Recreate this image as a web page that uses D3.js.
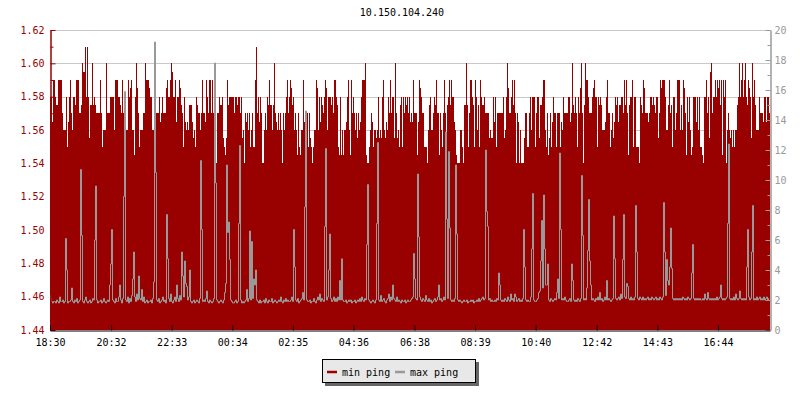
<!DOCTYPE html>
<html><head><meta charset="utf-8">
<script src="https://cdn.jsdelivr.net/npm/d3@7"></script>
<style>
body{margin:0;background:#fff}
svg text{font-family:"DejaVu Sans Mono",monospace;font-size:10px}
</style>
</head><body><svg id="c" width="800" height="400"></svg>
<script>
const chartTitle = "10.150.104.240";
const seriesNames = ["min ping", "max ping"];
const seriesColors = ["#990000", "#999999"];
const leftTicks = [1.44, 1.46, 1.48, 1.50, 1.52, 1.54, 1.56, 1.58, 1.60, 1.62];
const rightTicks = [0, 2, 4, 6, 8, 10, 12, 14, 16, 18, 20];
const timeTicks = ["18:30", "20:32", "22:33", "00:34", "02:35", "04:36", "06:38", "08:39", "10:40", "12:42", "14:43", "16:44"];

// min ping (left axis), read column by column
const minPingA = [1.58,1.58,1.565,1.59,1.59,1.58,1.575,1.575,1.59,1.59,1.59,1.59,1.57,1.56,1.56,1.56,1.58,1.55,1.565,1.58,1.59,1.57,1.56,1.58,1.58,1.575,1.59,1.59,1.59,1.57,1.57,1.575,1.60,1.595,1.595,1.61,1.58,1.61,1.58,1.555,1.575,1.575,1.60,1.575,1.58,1.575,1.57,1.57,1.57,1.57,1.59,1.57,1.55,1.56,1.56,1.56,1.60,1.57,1.57,1.57,1.58,1.58,1.58,1.58,1.56,1.59,1.59,1.59,1.58,1.58,1.575,1.57,1.59,1.57,1.57,1.57,1.56,1.56,1.59,1.58,1.585,1.59,1.56,1.56,1.545,1.58,1.60,1.585,1.57,1.55,1.56,1.56,1.56,1.57,1.57,1.60,1.59,1.59,1.59,1.585,1.58,1.58,1.56,1.56,1.58,1.57,1.57,1.57,1.57,1.58,1.565,1.57,1.58,1.57,1.57,1.57,1.585,1.59,1.58,1.58,1.59,1.60,1.595,1.58,1.58,1.59,1.565,1.58,1.58,1.59,1.585,1.575,1.57,1.55,1.58,1.565,1.56,1.565,1.56,1.575,1.575,1.575,1.565,1.555];
const minPingB = [1.56,1.55,1.58,1.575,1.57,1.57,1.56,1.57,1.59,1.57,1.57,1.565,1.59,1.58,1.57,1.59,1.59,1.57,1.59,1.57,1.56,1.54,1.54,1.57,1.57,1.58,1.575,1.575,1.58,1.555,1.55,1.545,1.555,1.59,1.575,1.58,1.58,1.58,1.58,1.58,1.57,1.58,1.58,1.575,1.58,1.58,1.57,1.58,1.555,1.56,1.54,1.57,1.565,1.57,1.56,1.57,1.55,1.56,1.57,1.55,1.55,1.59,1.61,1.57,1.58,1.565,1.58,1.57,1.54,1.54,1.56,1.57,1.56,1.58,1.575,1.59,1.575,1.575,1.56,1.575,1.60,1.57,1.565,1.56,1.57,1.56,1.57,1.56,1.54,1.57,1.56,1.57,1.58,1.59,1.57,1.58,1.59,1.585,1.575,1.58,1.56,1.57,1.56,1.545,1.57,1.55,1.545,1.56,1.56,1.59,1.565,1.56,1.55,1.57,1.55,1.57,1.555,1.55,1.54,1.55,1.56,1.56,1.59,1.585,1.56,1.58,1.565,1.58,1.575,1.57,1.58,1.59,1.585,1.56,1.58,1.58,1.58,1.575,1.58,1.57,1.59,1.59,1.58,1.575];
const minPingC = [1.55,1.545,1.58,1.545,1.56,1.545,1.56,1.56,1.565,1.58,1.59,1.56,1.545,1.59,1.57,1.58,1.57,1.56,1.57,1.555,1.57,1.56,1.565,1.58,1.59,1.59,1.59,1.60,1.545,1.54,1.54,1.55,1.56,1.57,1.565,1.55,1.56,1.56,1.555,1.56,1.58,1.555,1.56,1.555,1.58,1.59,1.56,1.555,1.565,1.56,1.58,1.57,1.59,1.57,1.58,1.58,1.555,1.60,1.57,1.555,1.56,1.55,1.575,1.58,1.55,1.58,1.57,1.58,1.575,1.58,1.57,1.58,1.565,1.57,1.565,1.59,1.57,1.57,1.57,1.545,1.565,1.59,1.585,1.58,1.57,1.57,1.55,1.55,1.55,1.54,1.56,1.575,1.58,1.56,1.56,1.57,1.58,1.575,1.59,1.57,1.57,1.545,1.57,1.56,1.55,1.57,1.59,1.57,1.545,1.575,1.58,1.59,1.575,1.59,1.58,1.58,1.565,1.56,1.545,1.54,1.54,1.54,1.56,1.56,1.55,1.54,1.575,1.575,1.60,1.575,1.55,1.57,1.59,1.59,1.58,1.575,1.55,1.59,1.58,1.56,1.575,1.55,1.59,1.58];
const minPingD = [1.575,1.575,1.58,1.57,1.57,1.57,1.57,1.555,1.56,1.555,1.555,1.58,1.565,1.58,1.55,1.57,1.57,1.57,1.57,1.57,1.57,1.58,1.555,1.56,1.58,1.60,1.585,1.57,1.57,1.58,1.59,1.575,1.59,1.57,1.54,1.57,1.565,1.54,1.56,1.54,1.54,1.54,1.555,1.57,1.57,1.55,1.55,1.57,1.58,1.56,1.58,1.58,1.58,1.55,1.57,1.58,1.58,1.555,1.575,1.575,1.58,1.59,1.59,1.56,1.55,1.57,1.545,1.555,1.57,1.55,1.565,1.58,1.57,1.57,1.55,1.57,1.57,1.57,1.55,1.565,1.56,1.58,1.57,1.57,1.57,1.57,1.58,1.58,1.565,1.57,1.60,1.575,1.57,1.58,1.57,1.55,1.58,1.57,1.585,1.60,1.57,1.54,1.575,1.60,1.59,1.59,1.58,1.57,1.57,1.57,1.58,1.585,1.59,1.58,1.58,1.55,1.58,1.575,1.58,1.575,1.56,1.56,1.56,1.565,1.58,1.59,1.57,1.57,1.55,1.56,1.57,1.555,1.565,1.58,1.575,1.58,1.565,1.575,1.575,1.58,1.58,1.57,1.59,1.575];
const minPingE = [1.59,1.57,1.545,1.575,1.58,1.58,1.59,1.55,1.58,1.58,1.55,1.55,1.55,1.54,1.58,1.575,1.57,1.59,1.585,1.57,1.57,1.57,1.565,1.57,1.58,1.58,1.575,1.58,1.575,1.57,1.58,1.58,1.555,1.57,1.59,1.585,1.59,1.59,1.59,1.58,1.56,1.56,1.575,1.59,1.57,1.575,1.55,1.58,1.58,1.56,1.57,1.59,1.59,1.59,1.56,1.575,1.56,1.59,1.585,1.57,1.545,1.58,1.565,1.58,1.56,1.545,1.55,1.58,1.58,1.58,1.565,1.58,1.56,1.58,1.55,1.55,1.545,1.54,1.58,1.58,1.59,1.57,1.58,1.555,1.595,1.60,1.57,1.58,1.58,1.59,1.58,1.59,1.585,1.59,1.575,1.59,1.545,1.59,1.58,1.59,1.54,1.56,1.57,1.56,1.555,1.56,1.55,1.56,1.55,1.56,1.56,1.575,1.58,1.60,1.58,1.59,1.60,1.58,1.59,1.60,1.58,1.575,1.59,1.585,1.58,1.555,1.60,1.58,1.59,1.575,1.56,1.56,1.56,1.58,1.57,1.57,1.57,1.565,1.58,1.58,1.565,1.58,1.58,1.57];

// max ping (right axis)
const maxPing1 = [2.3,2.1,1.9,1.8,1.9,1.9,1.8,2.0,1.9,1.8,2.2,1.9,1.9,2.0,1.8,1.9,6.1,4.0,1.8,1.9,1.9,2.0,2.8,1.9,1.8,2.0,1.9,2.1,1.8,1.9,2.0,10.7,6.3,1.9,1.8,2.0,2.2,1.9,1.8,1.9,2.0,1.8,1.9,2.1,2.0,6.0,9.6,2.0,1.8,1.9,1.9,2.0,1.8,1.9,2.1,1.9,1.8,1.9,2.0,1.9,
 3.0,4.4,6.7,2.0,1.9,1.8,2.1,1.9,1.9,2.2,3.0,2.0,1.8,2.1,8.9,15.9,2.0,1.9,2.2,1.8,2.1,1.9,2.3,3.4,5.2,2.2,1.9,2.4,2.0,3.6,2.1,2.0,2.7,1.9,2.2,1.8,1.9,2.0,1.8,1.9,1.9,2.0,1.8,2.1,3.2,19.2,10.5,2.0,1.9,2.1,1.8,1.9,2.0,2.2,1.9,2.0,1.8,7.7,4.75,2.1,
 1.9,2.4,1.9,1.8,2.0,2.2,1.9,3.0,2.1,1.9,2.3,2.0,5.2,3.6,2.2,4.6,3.1,2.9,2.0,2.2,4.0,1.9,1.8,1.9,2.0,1.8,1.9,2.0,1.9,1.8,2.1,11.3,6.7,1.9,2.0,1.9,2.1,2.6,1.9,1.8,2.0,1.9,1.8,1.9,2.1,17.8,9.8,2.0,1.9,1.8,1.9,2.0,1.9,1.8,2.0,2.5,3.1,11.0,6.5,7.2];
const maxPing2 = [4.7,2.0,1.9,1.8,1.8,1.9,2.0,1.8,1.9,7.1,12.3,2.0,1.8,1.9,1.8,1.9,2.0,2.7,1.9,2.1,6.6,2.0,5.9,2.1,3.4,3.0,4.0,2.0,1.9,1.8,2.0,1.8,1.9,1.9,2.0,1.8,2.1,1.9,1.8,2.0,1.9,1.9,2.1,1.8,1.9,2.0,1.9,1.8,1.9,2.0,1.9,2.2,1.9,1.8,2.0,1.9,2.1,1.9,2.0,1.9,
 1.9,2.0,2.2,1.9,6.7,4.2,2.0,1.9,2.1,1.8,1.9,2.0,2.1,2.5,2.0,8.2,14.6,2.0,1.9,1.9,2.0,1.8,1.9,1.9,2.1,1.9,1.8,2.0,2.2,2.0,2.4,1.9,2.1,2.0,1.9,6.9,12.1,2.0,2.2,4.0,6.4,2.1,1.9,2.0,2.2,1.9,2.1,1.9,2.2,2.0,3.3,2.0,4.75,2.0,1.9,1.9,2.0,1.8,1.9,2.0,
 1.9,2.0,1.8,1.9,1.9,2.0,1.8,1.9,2.0,1.9,2.1,1.9,2.2,2.0,1.9,2.1,2.0,5.7,9.7,2.0,1.9,1.8,1.9,2.0,1.9,1.8,2.0,7.1,12.5,2.0,1.9,2.3,1.9,2.0,2.1,1.9,1.8,2.0,2.1,2.4,1.9,2.2,2.0,3.0,2.1,2.0,1.9,2.2,1.9,2.0,1.9,1.8,2.0,1.9,1.9,2.0,1.8,1.9,2.0,1.9];
const maxPing3 = [1.9,2.0,2.1,2.2,5.1,3.4,2.1,2.0,10.4,6.2,2.2,2.0,1.9,2.1,2.0,1.9,2.3,2.0,1.9,2.1,1.9,2.0,1.8,1.9,2.0,2.1,1.9,2.0,2.2,3.0,2.0,2.1,1.9,2.0,2.2,2.0,13.2,7.4,2.1,11.9,6.8,2.0,1.9,2.0,1.9,2.1,11.0,6.4,2.0,1.9,2.0,1.9,1.8,1.9,2.0,1.9,1.9,2.0,1.8,1.9,
 1.9,2.0,1.9,2.0,1.8,1.9,1.9,2.0,1.9,2.1,1.9,2.0,2.1,2.2,2.0,2.1,12.0,7.9,6.9,2.0,2.1,1.9,2.0,1.9,1.9,2.0,1.9,2.1,2.0,3.8,3.0,2.0,1.9,2.0,1.9,2.1,2.0,1.9,2.2,2.0,1.9,2.4,2.0,2.1,1.9,2.4,2.2,1.9,2.0,2.1,1.9,2.0,1.9,2.1,6.7,4.2,2.0,1.9,2.0,1.9,
 1.9,2.2,5.4,9.1,2.0,1.9,1.9,2.0,2.1,2.5,2.6,4.6,7.3,2.8,9.0,5.4,3.0,3.0,4.4,2.0,1.9,2.1,2.0,1.9,2.0,2.1,2.0,2.5,3.4,2.1,11.8,6.7,2.0,2.1,2.0,2.2,2.0,1.9,1.9,2.0,2.1,1.9,4.4,3.3,2.0,1.9,2.0,1.9,2.1,2.0,1.9,2.1,10.3,6.3,2.0,2.1,2.0,2.8,5.3,8.7];
const maxPing4 = [4.6,3.0,2.0,2.1,2.0,1.9,2.1,2.0,2.2,2.0,2.5,2.0,2.1,1.9,2.0,2.2,2.0,3.3,2.0,2.1,2.0,1.9,2.0,2.1,7.6,4.75,2.1,2.0,2.1,2.2,2.0,2.4,2.1,4.7,7.7,2.2,2.1,3.1,2.9,2.1,2.0,2.2,2.0,2.1,2.0,2.2,8.3,5.2,2.1,2.0,2.2,2.1,2.0,2.2,2.0,2.1,2.0,2.1,2.2,2.0,
 2.1,2.0,2.2,2.1,2.0,2.1,2.2,2.0,2.1,2.0,2.2,2.1,2.0,2.2,8.5,5.2,2.3,4.7,3.3,3.0,4.2,6.8,4.1,2.1,2.0,2.1,2.0,2.1,2.0,2.1,2.0,2.1,2.0,2.2,2.1,2.0,2.1,2.0,2.2,2.1,2.0,2.1,3.8,5.7,2.1,2.0,2.1,2.0,2.1,2.0,2.1,2.0,2.0,2.1,2.0,2.4,2.1,2.0,2.5,2.1,
 2.0,2.1,2.0,2.1,2.0,2.1,2.0,2.2,2.0,2.1,2.2,3.0,2.1,2.0,2.1,2.0,2.1,2.2,7.1,12.4,2.1,2.0,2.1,2.0,2.2,2.0,2.4,2.1,2.0,2.1,2.6,2.1,2.0,2.1,2.0,2.1,2.0,4.2,6.7,2.2,2.0,2.1,5.2,8.3,2.0,2.1,2.0,2.2,2.0,2.1,2.2,2.0,2.1,2.0,2.2,2.0,2.1,2.2,2.0,2.1];

const minPing = [...minPingA, ...minPingB, ...minPingC, ...minPingD, ...minPingE];
const maxPing = [...maxPing1, ...maxPing2, ...maxPing3, ...maxPing4];

const svg = d3.select("#c");
const L = 50, R = 770, T = 30, B = 330;

const tStart = new Date(2021, 0, 1, 18, 30);
const tEnd = new Date(2021, 0, 2, 18, 28);
const xTime = d3.scaleTime().domain([tStart, tEnd]).range([L, R]);
const tickDates = timeTicks.map(s => {
  const [h, m] = s.split(":").map(Number);
  return new Date(2021, 0, h >= 18 ? 1 : 2, h, m);
});
const yL = d3.scaleLinear().domain([1.44, 1.62]).range([B, T]);
const yR = d3.scaleLinear().domain([0, 20]).range([B, T]);

// grid lines
svg.append("g").selectAll("line").data(leftTicks.slice(1)).join("line")
  .attr("x1", L).attr("x2", R)
  .attr("y1", d => Math.round(yL(d)) + 0.5).attr("y2", d => Math.round(yL(d)) + 0.5)
  .attr("stroke", "#c8c8c8").attr("stroke-width", 1);

// min ping area
const N = minPing.length;
const xi = d3.scaleLinear().domain([0, N]).range([L, R]);
const areaData = d3.range(N + 1).map(i => minPing[Math.min(i, N - 1)]);
svg.append("path").datum(areaData)
  .attr("d", d3.area().x((d, i) => xi(i)).y0(B).y1(d => yL(d)).curve(d3.curveStepAfter))
  .attr("fill", seriesColors[0]).attr("shape-rendering", "crispEdges");

// max ping line (steps, vertical risers on pixel centres)
const M = maxPing.length;
const xm = d3.scaleLinear().domain([0, M]).range([L, R]);
svg.append("path").datum(maxPing)
  .attr("d", d3.line().x((d, i) => Math.round(xm(i))).y(d => yR(d)).curve(d3.curveStep))
  .attr("fill", "none").attr("stroke", seriesColors[1]).attr("stroke-width", 1);

// left axis
const minorLeft = d3.range(1.45, 1.62, 0.02).map(v => +v.toFixed(2));
const gl = svg.append("g").attr("transform", `translate(${L + 0.5},0)`);
gl.call(d3.axisLeft(yL).tickValues(leftTicks).tickSize(-5).tickSizeOuter(0).tickPadding(6).tickFormat(d3.format(".2f")));
gl.append("g").call(d3.axisLeft(yL).tickValues(minorLeft).tickSize(-3).tickSizeOuter(0).tickFormat(""));
gl.selectAll("path,line").attr("stroke", seriesColors[0]);
gl.selectAll("text").attr("fill", seriesColors[0]).style("font-family", "DejaVu Sans Mono").style("font-size", "10px");

// right axis
const minorRight = d3.range(1, 20, 2);
const gr = svg.append("g").attr("transform", `translate(${R + 0.5},0)`);
gr.call(d3.axisRight(yR).tickValues(rightTicks).tickSize(-5).tickSizeOuter(0).tickPadding(4));
gr.append("g").call(d3.axisRight(yR).tickValues(minorRight).tickSize(-3).tickSizeOuter(0).tickFormat(""));
gr.selectAll("path,line").attr("stroke", seriesColors[1]);
gr.selectAll("text").attr("fill", seriesColors[1]).style("font-family", "DejaVu Sans Mono").style("font-size", "10px");

// bottom axis
const gb = svg.append("g").attr("transform", `translate(0,${B + 0.5})`);
gb.call(d3.axisBottom(xTime).tickValues(tickDates).tickSize(-5).tickSizeOuter(0).tickPadding(8).tickFormat(d3.timeFormat("%H:%M")));
gb.selectAll("path,line").attr("stroke", "#000");
gb.selectAll("text").attr("fill", "#000").style("font-family", "DejaVu Sans Mono").style("font-size", "10px");

// title
svg.append("text").attr("x", 402).attr("y", 16).attr("text-anchor", "middle")
  .attr("fill", "#000").text(chartTitle);

// legend
const lg = svg.append("g");
lg.append("rect").attr("x", 325).attr("y", 362).attr("width", 154).attr("height", 24).attr("fill", "#666");
lg.append("rect").attr("x", 322.5).attr("y", 359.5).attr("width", 153).attr("height", 23)
  .attr("fill", "#e8e8e8").attr("stroke", "#000").attr("stroke-width", 1);
const legX = [327, 395];
seriesNames.forEach((name, i) => {
  lg.append("line").attr("x1", legX[i]).attr("x2", legX[i] + 10).attr("y1", 372).attr("y2", 372)
    .attr("stroke", seriesColors[i]).attr("stroke-width", 2.5);
  lg.append("text").attr("x", legX[i] + 15).attr("y", 375.5).attr("fill", "#000").text(name);
});
</script>
</body></html>
